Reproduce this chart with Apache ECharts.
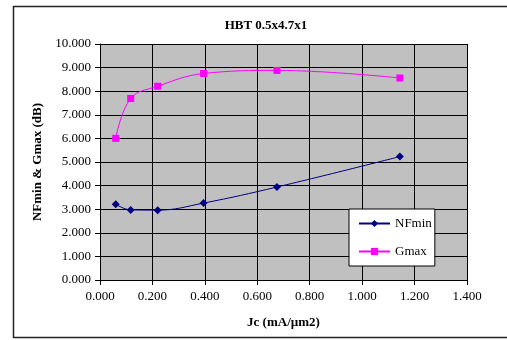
<!DOCTYPE html>
<html>
<head>
<meta charset="utf-8">
<script src="https://cdn.jsdelivr.net/npm/echarts@6/dist/echarts.min.js"></script>
<style>html,body{margin:0;padding:0;background:#fff;}#c{width:507px;height:340px;}</style>
</head>
<body>
<div id="c"></div>
<script>
const jc = [0.060, 0.117, 0.220, 0.395, 0.675, 1.144];
const nfmin = [3.21, 2.97, 2.96, 3.26, 3.94, 5.23];
const gmax = [6.00, 7.69, 8.21, 8.75, 8.88, 8.56];
const titleText = 'HBT 0.5x4.7x1';
const xName = 'Jc (mA/\u00b5m2)';
const yName = 'NFmin & Gmax (dB)';

const FONT = '"Liberation Serif", "Times New Roman", serif';
const chart = echarts.init(document.getElementById('c'), null, {renderer: 'canvas'});
const pair = (xs, ys) => xs.map((x, i) => [x, ys[i]]);
chart.setOption({
  animation: false,
  backgroundColor: '#ffffff',
  textStyle: {fontFamily: FONT},
  title: {
    text: titleText, left: 261, top: 14, textAlign: 'center',
    textStyle: {fontFamily: FONT, fontSize: 13, fontWeight: 'bold', color: '#000'}
  },
  graphic: [{
    type: 'polyline', z: 100,
    shape: {points: [[520, 6.5], [13.5, 6.5], [13.5, 337.5], [520, 337.5]]},
    style: {fill: 'none', stroke: '#222', lineWidth: 1.5}
  }],
  grid: {left: 100, top: 44, right: 40, bottom: 60, show: true, backgroundColor: '#c0c0c0', borderWidth: 0},
  xAxis: {
    type: 'value', min: 0, max: 1.4, interval: 0.2,
    name: xName, nameLocation: 'middle', nameGap: 36,
    nameTextStyle: {fontFamily: FONT, fontSize: 13, fontWeight: 'bold', color: '#000'},
    axisLine: {show: true, lineStyle: {color: '#000', width: 1}},
    axisTick: {show: true, length: 5, lineStyle: {color: '#000'}},
    axisLabel: {fontFamily: FONT, fontSize: 13, color: '#000', margin: 10, formatter: v => v.toFixed(3)},
    splitLine: {show: true, lineStyle: {color: '#000', width: 1}}
  },
  yAxis: {
    type: 'value', min: 0, max: 10, interval: 1,
    name: yName, nameLocation: 'middle', nameGap: 46, nameRotate: 90,
    nameTextStyle: {fontFamily: FONT, fontSize: 13, fontWeight: 'bold', color: '#000'},
    axisLine: {show: true, lineStyle: {color: '#000', width: 1}},
    axisTick: {show: true, length: 5, lineStyle: {color: '#000'}},
    axisLabel: {fontFamily: FONT, fontSize: 13, color: '#000', margin: 9, formatter: v => v.toFixed(3)},
    splitLine: {show: true, lineStyle: {color: '#000', width: 1}}
  },
  legend: {
    orient: 'vertical', left: 349, top: 209,
    backgroundColor: '#ffffff', borderColor: '#000', borderWidth: 1,
    padding: [7, 3, 7, 9], itemGap: 13, itemWidth: 31, itemHeight: 9, itemTextGap: 1,
    textStyle: {fontFamily: FONT, fontSize: 13, color: '#000', lineHeight: 15},
    data: ['NFmin', 'Gmax']
  },
  series: [
    {
      name: 'NFmin', type: 'line', smooth: 0.4, data: pair(jc, nfmin),
      symbol: 'diamond', symbolSize: 8,
      lineStyle: {color: '#000080', width: 1}, itemStyle: {color: '#000080'}
    },
    {
      name: 'Gmax', type: 'line', smooth: 0.4, data: pair(jc, gmax),
      symbol: 'rect', symbolSize: 7,
      lineStyle: {color: '#ff00ff', width: 1}, itemStyle: {color: '#ff00ff'}
    }
  ]
});
</script>
</body>
</html>
